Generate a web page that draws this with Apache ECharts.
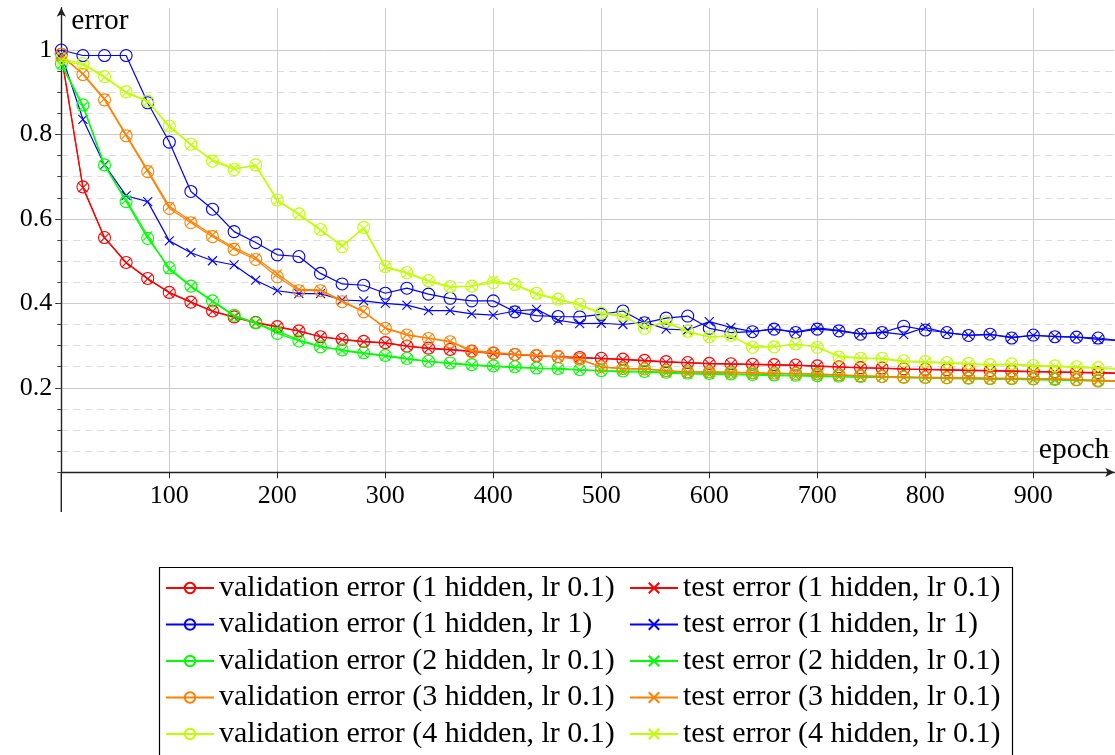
<!DOCTYPE html>
<html>
<head>
<meta charset="utf-8">
<script src="https://cdn.jsdelivr.net/npm/echarts@6/dist/echarts.min.js"></script>
<style>
html,body{margin:0;padding:0;background:#fff;}
#chart{width:1115px;height:755px;}
</style>
</head>
<body>
<div id="chart"></div>
<script>
// epochs (every 20)
const epochs = [0,20,40,60,80,100,120,140,160,180,200,220,240,260,280,300,320,340,360,380,400,420,440,460,480,500,520,540,560,580,600,620,640,660,680,700,720,740,760,780,800,820,840,860,880,900,920,940,960,980];

const valRed1   = [0.99,0.676,0.556,0.497,0.459,0.426,0.403,0.382,0.368,0.355,0.345,0.335,0.321,0.315,0.310,0.307,0.299,0.294,0.291,0.287,0.282,0.279,0.276,0.274,0.272,0.270,0.268,0.265,0.262,0.260,0.258,0.257,0.256,0.255,0.254,0.252,0.250,0.248,0.247,0.245,0.244,0.243,0.242,0.241,0.240,0.239,0.238,0.237,0.236,0.235];
const testRed1  = [0.985,0.674,0.555,0.496,0.458,0.425,0.403,0.381,0.367,0.354,0.344,0.334,0.321,0.314,0.309,0.306,0.299,0.293,0.290,0.286,0.281,0.279,0.275,0.273,0.271,0.269,0.267,0.264,0.261,0.259,0.257,0.256,0.255,0.254,0.253,0.251,0.249,0.247,0.246,0.244,0.243,0.242,0.241,0.240,0.239,0.238,0.237,0.236,0.235,0.234];
const valBlue1  = [1.0,0.987,0.987,0.987,0.875,0.782,0.665,0.623,0.570,0.544,0.515,0.511,0.471,0.446,0.443,0.424,0.436,0.422,0.412,0.406,0.406,0.380,0.371,0.369,0.368,0.374,0.382,0.354,0.365,0.370,0.341,0.331,0.333,0.339,0.331,0.339,0.335,0.327,0.331,0.346,0.337,0.331,0.324,0.327,0.318,0.325,0.321,0.320,0.318,0.312];
const testBlue1 = [0.99,0.836,0.728,0.655,0.641,0.548,0.520,0.501,0.491,0.455,0.430,0.423,0.423,0.408,0.406,0.400,0.396,0.383,0.383,0.375,0.372,0.382,0.386,0.360,0.352,0.353,0.350,0.356,0.339,0.337,0.357,0.343,0.333,0.340,0.332,0.342,0.336,0.328,0.332,0.326,0.343,0.330,0.325,0.326,0.320,0.324,0.322,0.320,0.315,0.312];
const valGreen2 = [0.968,0.870,0.728,0.641,0.554,0.484,0.441,0.406,0.372,0.354,0.329,0.311,0.297,0.290,0.283,0.277,0.270,0.263,0.259,0.255,0.252,0.250,0.247,0.246,0.243,0.241,0.240,0.239,0.237,0.235,0.234,0.233,0.232,0.231,0.230,0.229,0.228,0.227,0.227,0.226,0.225,0.224,0.223,0.222,0.222,0.221,0.220,0.219,0.218,0.217];
const testGreen2= [0.965,0.866,0.726,0.645,0.560,0.480,0.440,0.404,0.370,0.353,0.335,0.313,0.299,0.288,0.281,0.275,0.268,0.262,0.257,0.253,0.250,0.248,0.246,0.244,0.242,0.240,0.238,0.237,0.235,0.233,0.232,0.231,0.230,0.229,0.228,0.227,0.226,0.225,0.225,0.224,0.223,0.222,0.221,0.220,0.220,0.219,0.218,0.217,0.216,0.215];
const valOrange3= [0.99,0.942,0.882,0.797,0.712,0.625,0.591,0.558,0.528,0.504,0.463,0.430,0.430,0.404,0.380,0.341,0.325,0.317,0.309,0.286,0.283,0.279,0.277,0.274,0.268,0.250,0.246,0.245,0.241,0.238,0.238,0.237,0.236,0.235,0.234,0.233,0.231,0.229,0.227,0.225,0.225,0.224,0.224,0.223,0.223,0.222,0.222,0.220,0.216,0.216];
const testOrange3=[0.985,0.944,0.885,0.800,0.716,0.630,0.595,0.562,0.532,0.508,0.470,0.433,0.432,0.406,0.381,0.342,0.326,0.318,0.310,0.289,0.284,0.280,0.277,0.273,0.267,0.249,0.245,0.244,0.240,0.237,0.237,0.236,0.235,0.234,0.233,0.232,0.230,0.228,0.226,0.224,0.224,0.223,0.223,0.222,0.222,0.221,0.221,0.219,0.218,0.217];
const valLime4  = [0.98,0.968,0.937,0.901,0.879,0.820,0.777,0.737,0.717,0.728,0.645,0.612,0.575,0.534,0.580,0.487,0.473,0.454,0.440,0.441,0.449,0.445,0.424,0.410,0.398,0.377,0.372,0.341,0.357,0.334,0.321,0.324,0.296,0.297,0.304,0.296,0.273,0.270,0.270,0.264,0.262,0.260,0.258,0.255,0.257,0.253,0.252,0.250,0.248,0.246];
const testLime4 = [0.975,0.965,0.935,0.899,0.877,0.818,0.775,0.740,0.720,0.725,0.643,0.610,0.573,0.537,0.577,0.485,0.471,0.452,0.438,0.441,0.455,0.443,0.422,0.408,0.396,0.375,0.370,0.343,0.355,0.332,0.320,0.322,0.298,0.299,0.302,0.298,0.275,0.271,0.268,0.262,0.260,0.258,0.256,0.253,0.255,0.251,0.250,0.248,0.246,0.244];

const seriesDefs = [
  {name:'validation error (1 hidden, lr 0.1)', data: valRed1,    color:'#ff0000', test:false},
  {name:'test error (1 hidden, lr 0.1)',       data: testRed1,   color:'#ff0000', test:true},
  {name:'validation error (1 hidden, lr 1)',   data: valBlue1,   color:'#0000ff', test:false},
  {name:'test error (1 hidden, lr 1)',         data: testBlue1,  color:'#0000ff', test:true},
  {name:'validation error (2 hidden, lr 0.1)', data: valGreen2,  color:'#00ff00', test:false},
  {name:'test error (2 hidden, lr 0.1)',       data: testGreen2, color:'#00ff00', test:true},
  {name:'validation error (3 hidden, lr 0.1)', data: valOrange3, color:'#ff8000', test:false},
  {name:'test error (3 hidden, lr 0.1)',       data: testOrange3,color:'#ff8000', test:true},
  {name:'validation error (4 hidden, lr 0.1)', data: valLime4,   color:'#bfff00', test:false},
  {name:'test error (4 hidden, lr 0.1)',       data: testLime4,  color:'#bfff00', test:true}
];

const FONT = 'Liberation Serif';
const X_MAX = 975, Y_MAX = 1.1;
const gridPos = {left: 61.3, right: 0.7, top: 7.8, bottom: 282.7};
const xPath = 'path://M0,0L10,10M10,0L0,10';

const series = seriesDefs.map((s, k) => ({
  type: 'line',
  name: s.name,
  xAxisIndex: 0, yAxisIndex: 0,
  data: epochs.map((e, i) => [e, s.data[i]]),
  symbol: s.test ? xPath : 'circle',
  symbolSize: s.test ? 9 : 12,
  showSymbol: true,
  clip: true,
  z: 3 + k * 0.01,
  lineStyle: {color: s.color, width: 1.2},
  itemStyle: {color: 'rgba(0,0,0,0)', borderColor: s.color, borderWidth: 1.1},
  emphasis: {disabled: true},
  animation: false
}));

const legendCommon = {
  orient: 'vertical', top: 573, padding: 0, height: 200,
  itemWidth: 48, itemHeight: 13, itemGap: 6.5,
  textStyle: {fontFamily: FONT, fontSize: 30, color: '#000'},
  selectedMode: false
};

const chart = echarts.init(document.getElementById('chart'), null, {renderer: 'canvas'});
chart.setOption({
  animation: false,
  backgroundColor: '#fff',
  grid: [
    Object.assign({}, gridPos),
    {left: gridPos.left, right: gridPos.right, top: 7.8 + 464.5 * (Y_MAX - 1.0) / Y_MAX, bottom: gridPos.bottom}
  ],
  xAxis: [
    {
      type: 'value', gridIndex: 0, min: 0, max: X_MAX, interval: 100,
      name: 'epoch', nameLocation: 'end', nameGap: -5,
      nameTextStyle: {fontFamily: FONT, fontSize: 29.5, color: '#000', align: 'right', verticalAlign: 'bottom', lineHeight: 29, padding: [0, 0, 8, 0]},
      axisLine: {show: true, onZero: false, lineStyle: {color: '#222', width: 1.4}, symbol: ['none', 'arrow'], symbolSize: [7, 9]},
      axisTick: {show: true, length: 6, lineStyle: {color: '#222', width: 1}},
      axisLabel: {fontFamily: FONT, fontSize: 26, color: '#000', margin: 11, showMinLabel: false, showMaxLabel: false},
      splitLine: {show: true, showMinLine: false, showMaxLine: false, lineStyle: {color: '#cccccc', width: 1}}
    },
    {type: 'value', gridIndex: 1, min: 0, max: X_MAX, show: false}
  ],
  yAxis: [
    {
      type: 'value', gridIndex: 0, min: 0, max: Y_MAX, interval: 0.2,
      name: 'error', nameLocation: 'end', nameGap: -13,
      nameTextStyle: {fontFamily: FONT, fontSize: 29.5, color: '#000', align: 'left', verticalAlign: 'middle', padding: [0, 0, 0, 10]},
      axisLine: {show: true, onZero: false, lineStyle: {color: '#222', width: 1.4}, symbol: ['none', 'arrow'], symbolSize: [7, 9]},
      axisTick: {show: true, length: 6, lineStyle: {color: '#222', width: 1}},
      axisLabel: {fontFamily: FONT, fontSize: 26, color: '#000', margin: 9, showMinLabel: false, showMaxLabel: false,
                  formatter: v => String(Math.round(v * 10) / 10)},
      splitLine: {show: true, showMinLine: false, showMaxLine: false, lineStyle: {color: '#cccccc', width: 1}}
    },
    {
      type: 'value', gridIndex: 1, min: 0, max: 1.0, interval: 0.05,
      axisLine: {show: false},
      axisLabel: {show: false},
      axisTick: {show: true, length: 4, lineStyle: {color: '#444', width: 1}},
      splitLine: {show: true, lineStyle: {color: ['rgba(0,0,0,0)', '#dddddd', '#dddddd', '#dddddd'], width: 1, type: [7, 5]}}
    }
  ],
  legend: [
    Object.assign({}, legendCommon, {left: 165, data: seriesDefs.filter(s => !s.test).map(s => s.name)}),
    Object.assign({}, legendCommon, {left: 629, data: seriesDefs.filter(s => s.test).map(s => s.name)})
  ],
  graphic: [
    {type: 'rect', left: 157, top: 565, shape: {width: 853, height: 188}, style: {fill: 'none', stroke: '#000', lineWidth: 1.2}, silent: true},
    {type: 'line', shape: {x1: 61.3, y1: 472.3, x2: 61.3, y2: 512}, style: {stroke: '#222', lineWidth: 1.4}, silent: true}
  ],
  series: series
});
</script>
</body>
</html>
